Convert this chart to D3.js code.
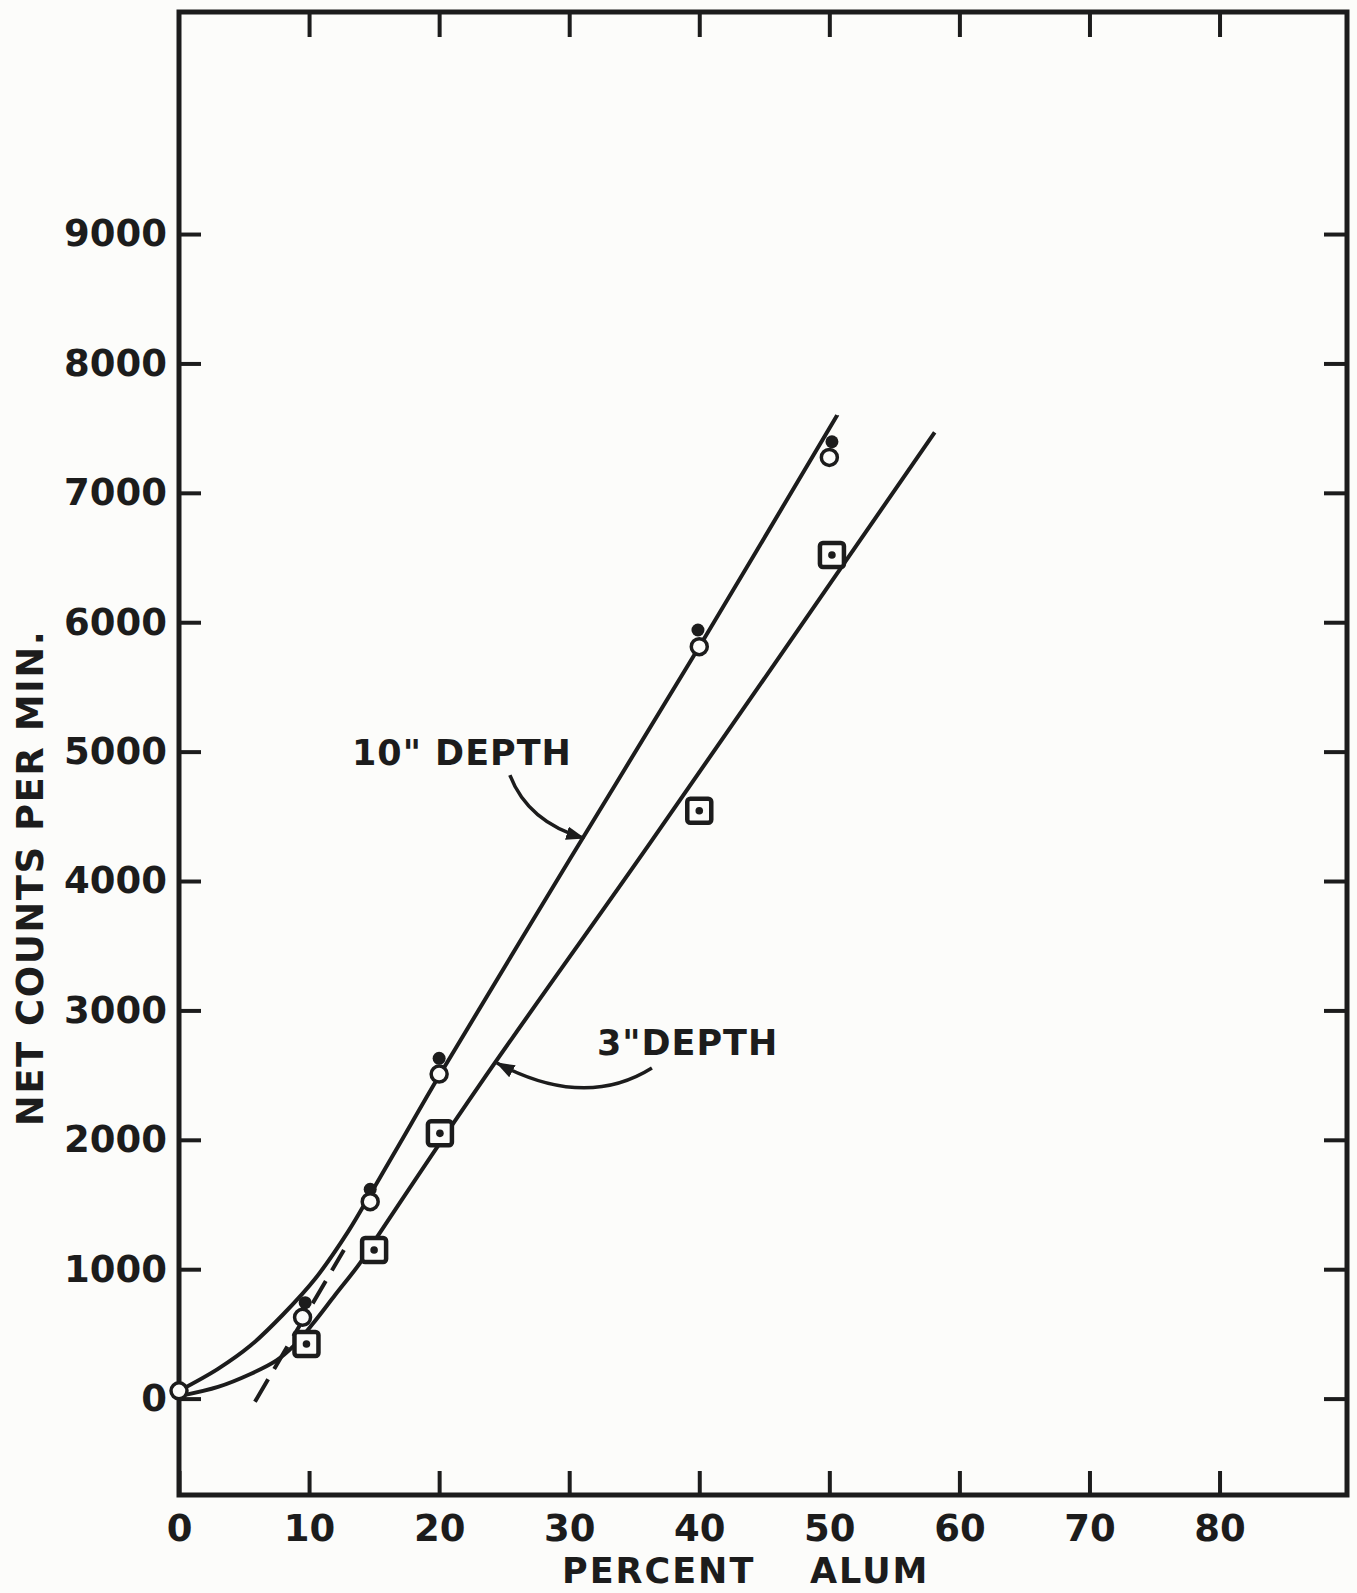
<!DOCTYPE html>
<html>
<head>
<meta charset="utf-8">
<script src="https://cdn.jsdelivr.net/npm/d3@7"></script>
<style>
body{margin:0;background:#fcfcfa;}
svg text{font-family:"DejaVu Sans",sans-serif;font-weight:bold;fill:#1c1c1c;}
</style>
</head>
<body>
<div id="chart"></div>
<script>
/* --------------- DATA ------------ */
var xTicks=[0,10,20,30,40,50,60,70,80];
var yTicks=[0,1000,2000,3000,4000,5000,6000,7000,8000,9000];

// 10" depth : open circles, solid dots, drawn curve
var deep_open=[[0,60],[9.5,628],[14.7,1522],[20,2508],[40,5811],[50,7274]];
var deep_dots=[[9.7,741],[14.7,1617],[20,2630],[39.9,5940],[50.2,7395]];
var deep_curve=[[0,60],[3,230],[5.5,410],[8,650],[10.5,930],[13,1290],[15,1630],[17,1975],[20,2495],[30,4160],[40,5810],[50.6,7600]];

// 3" depth : boxed dots, drawn curve
var shallow_boxes=[[9.8,422],[15,1148],[20.06,2050],[40,4543],[50.2,6519]];
var shallow_curve=[[0.3,25],[3,90],[5.5,190],[7.5,295],[8.8,405],[10.3,580],[12,800],[13.9,1045],[15.07,1225],[23.1,2423],[36.2,4291],[58.1,7467]];

// dashed extension near the origin
var dashed_guide=[[5.84,-24],[12.68,1148]];

// curve labels + pointer arrows (data units)
var label_text=['10" DEPTH','3"DEPTH'];
var label_pos=[[13.3,4897],[32.13,2655]];
var arrow_from=[[25.44,4819],[36.36,2555]];
var arrow_ctrl=[[26.83,4456],[31.2,2230]];
var arrow_to=[[31.13,4332],[24.44,2594]];

/* --------------- SETUP ------------ */
var INK="#1c1c1c";
var PAPER="#fcfcfa";
var W=1357, H=1593;
var xMin=0, xMax=89.8, yMin=-745, yMax=10716;

var x=d3.scaleLinear().domain([xMin,xMax]).range([179,1347]);
var y=d3.scaleLinear().domain([yMin,yMax]).range([1495,12]);

var svg=d3.select("#chart").append("svg")
    .attr("width",W)
    .attr("height",H)
    .style("background",PAPER);

var defs=svg.append("defs");
defs.append("marker")
    .attr("id","arrow")
    .attr("viewBox","0 0 14 10")
    .attr("refX",13)
    .attr("refY",5)
    .attr("markerWidth",19)
    .attr("markerHeight",14)
    .attr("markerUnits","userSpaceOnUse")
    .attr("orient","auto")
  .append("path")
    .attr("d","M0,0 L14,5 L0,10 z")
    .attr("fill",INK);

/* --------------- AXES ------------ */
function styleAxis(g,labels){
    g.select(".domain").remove();
    g.selectAll(".tick line").attr("stroke",INK).attr("stroke-width",4);
    g.selectAll(".tick text").attr("font-size",labels?37:0).attr("fill",INK).attr("font-family",null);
}

svg.append("g")
    .attr("transform","translate(0,"+y(yMin)+")")
    .call(d3.axisBottom(x).tickValues(xTicks).tickSizeInner(-24).tickSizeOuter(0).tickPadding(20).tickFormat(d3.format("d")))
    .call(function(g){ styleAxis(g,true); });

svg.append("g")
    .attr("transform","translate(0,"+y(yMax)+")")
    .call(d3.axisTop(x).tickValues(xTicks.slice(1)).tickSizeInner(-25).tickSizeOuter(0).tickFormat(""))
    .call(function(g){ styleAxis(g,false); });

svg.append("g")
    .attr("transform","translate("+x(xMin)+",0)")
    .call(d3.axisLeft(y).tickValues(yTicks).tickSizeInner(-22).tickSizeOuter(0).tickPadding(12).tickFormat(d3.format("d")))
    .call(function(g){ styleAxis(g,true); });

svg.append("g")
    .attr("transform","translate("+x(xMax)+",0)")
    .call(d3.axisRight(y).tickValues(yTicks).tickSizeInner(-23).tickSizeOuter(0).tickFormat(""))
    .call(function(g){ styleAxis(g,false); });

// frame
svg.append("rect")
    .attr("x",x(xMin))
    .attr("y",y(yMax))
    .attr("width",x(xMax)-x(xMin))
    .attr("height",y(yMin)-y(yMax))
    .attr("fill","none")
    .attr("stroke",INK)
    .attr("stroke-width",5);

// axis titles
svg.append("text")
    .attr("transform","translate(43,878) rotate(-90)")
    .attr("text-anchor","middle")
    .attr("font-size",37)
    .attr("letter-spacing",1.5)
    .text("NET COUNTS PER MIN.");

var xt=svg.append("text")
    .attr("y",1583)
    .attr("font-size",35)
    .attr("letter-spacing",2);
xt.append("tspan").attr("x",562).text("PERCENT");
xt.append("tspan").attr("x",810).text("ALUM");

/* --------------- CURVES ------------ */
var line=d3.line()
    .x(function(d){return x(d[0]);})
    .y(function(d){return y(d[1]);})
    .curve(d3.curveCatmullRom.alpha(0.5));

svg.append("path")
    .datum(deep_curve)
    .attr("d",line)
    .attr("fill","none")
    .attr("stroke",INK)
    .attr("stroke-width",4);

svg.append("path")
    .datum(shallow_curve)
    .attr("d",line)
    .attr("fill","none")
    .attr("stroke",INK)
    .attr("stroke-width",4);

svg.append("path")
    .datum(dashed_guide)
    .attr("d",d3.line().x(function(d){return x(d[0]);}).y(function(d){return y(d[1]);}))
    .attr("fill","none")
    .attr("stroke",INK)
    .attr("stroke-width",4)
    .attr("stroke-dasharray","26,12");

/* --------------- POINTS ------------ */
svg.selectAll(".box")
    .data(shallow_boxes)
  .enter().append("rect")
    .attr("class","box")
    .attr("x",function(d){return x(d[0])-12;})
    .attr("y",function(d){return y(d[1])-12;})
    .attr("width",24)
    .attr("height",24)
    .attr("rx",3)
    .attr("fill",PAPER)
    .attr("stroke",INK)
    .attr("stroke-width",4.5);

svg.selectAll(".boxdot")
    .data(shallow_boxes)
  .enter().append("circle")
    .attr("class","boxdot")
    .attr("cx",function(d){return x(d[0]);})
    .attr("cy",function(d){return y(d[1]);})
    .attr("r",3.8)
    .attr("fill",INK);

svg.selectAll(".dot")
    .data(deep_dots)
  .enter().append("circle")
    .attr("class","dot")
    .attr("cx",function(d){return x(d[0]);})
    .attr("cy",function(d){return y(d[1]);})
    .attr("r",6.5)
    .attr("fill",INK);

svg.selectAll(".open")
    .data(deep_open)
  .enter().append("circle")
    .attr("class","open")
    .attr("cx",function(d){return x(d[0]);})
    .attr("cy",function(d){return y(d[1]);})
    .attr("r",8)
    .attr("fill",PAPER)
    .attr("stroke",INK)
    .attr("stroke-width",3.5);

/* --------------- LABELS + ARROWS ------------ */
for (var i=0;i<label_text.length;i++){
    svg.append("text")
        .attr("x",x(label_pos[i][0]))
        .attr("y",y(label_pos[i][1]))
        .attr("font-size",35)
        .attr("letter-spacing",1)
        .text(label_text[i]);

    var p=d3.path();
    p.moveTo(x(arrow_from[i][0]),y(arrow_from[i][1]));
    p.quadraticCurveTo(x(arrow_ctrl[i][0]),y(arrow_ctrl[i][1]),x(arrow_to[i][0]),y(arrow_to[i][1]));
    svg.append("path")
        .attr("d",p.toString())
        .attr("fill","none")
        .attr("stroke",INK)
        .attr("stroke-width",3.5)
        .attr("marker-end","url(#arrow)");
}
</script>
</body>
</html>
